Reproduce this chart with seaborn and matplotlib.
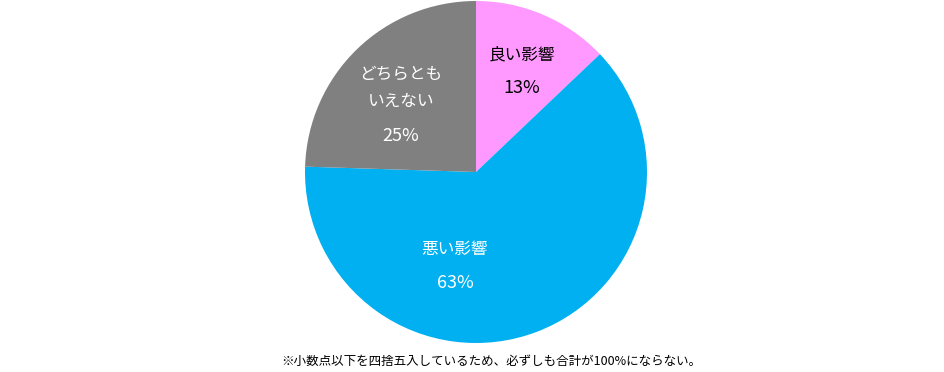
import matplotlib
matplotlib.use("Agg")
import matplotlib.pyplot as plt
import seaborn as sns

# Data
categories = ["良い影響", "悪い影響", "どちらとも\nいえない"]
values = [12.9, 62.6, 24.5]
pct_labels = ["13%", "63%", "25%"]
colors = ["#FF99FF", "#00B0F0", "#808080"]
text_colors = ["black", "white", "white"]
footnote = "※小数点以下を四捨五入しているため、必ずしも合計が100%にならない。"

sns.set_theme(style="white")
plt.rcParams['font.family'] = ['Noto Sans CJK JP', 'DejaVu Sans']

W, H = 944, 372
fig = plt.figure(figsize=(W / 100, H / 100), dpi=100)
cx, cy, r = 476, 172, 171
ax = fig.add_axes([(cx - r) / W, (H - cy - r) / H, 2 * r / W, 2 * r / H])

wedges, _ = ax.pie(values, colors=colors, startangle=90, counterclock=False,
                   radius=1.0, wedgeprops=dict(linewidth=0))
ax.set_xlim(-1, 1)
ax.set_ylim(-1, 1)
ax.set_aspect('equal')
ax.axis('off')

# label layout (axes-data coordinates of the name/percent centres)
label_pos = [(0.269, 0.684, 0.491), (-0.123, -0.456, -0.649), (-0.439, 0.492, 0.211)]
for cat, pct, tc, (x, yn, yp) in zip(categories, pct_labels, text_colors, label_pos):
    ax.text(x, yn, cat, ha='center', va='center', fontsize=12, color=tc,
            linespacing=1.8)
    ax.text(x, yp, pct, ha='center', va='center', fontsize=13, color=tc)

fig.text(491 / W, 1 - 361 / H, footnote, ha='center', va='center', fontsize=9,
         color='black')

fig.savefig("out.png", dpi=100)
